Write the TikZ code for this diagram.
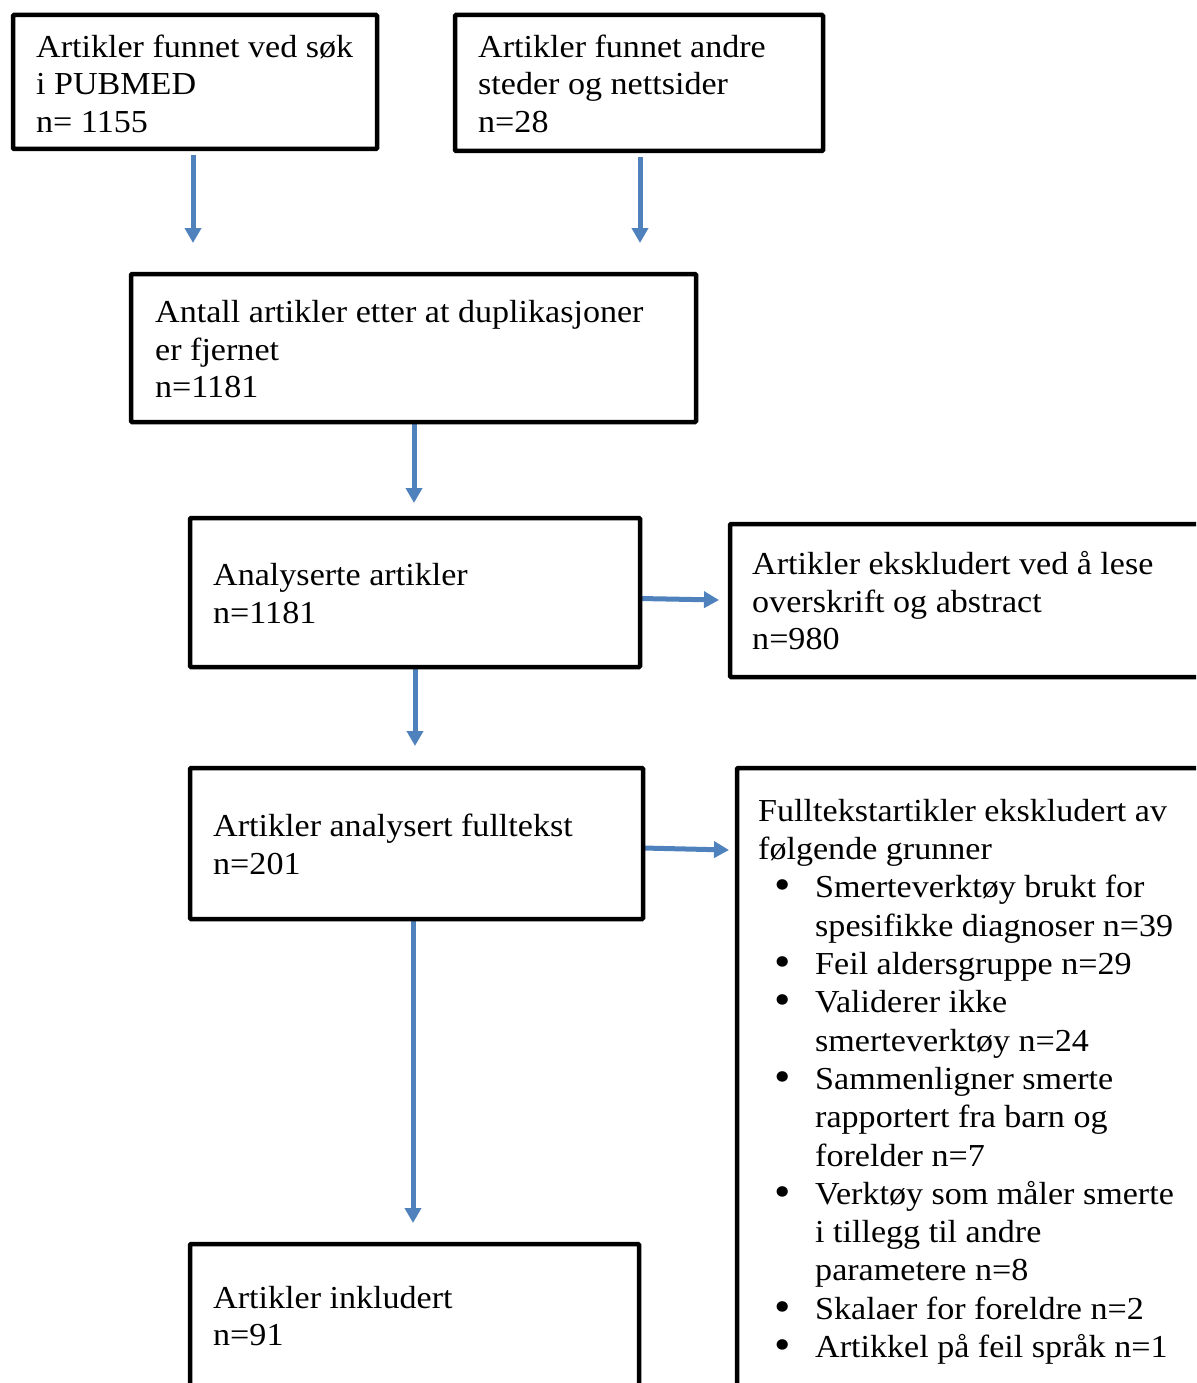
\documentclass[tikz,border=0pt]{standalone}
\usepackage{fontspec}
\setmainfont[FakeStretch=1.065]{Liberation Serif}
\usetikzlibrary{arrows.meta,backgrounds}
\definecolor{arrowblue}{RGB}{79,129,189}
\newcommand\bitem{\makebox[57pt][l]{\hspace{16pt}\raisebox{-2pt}{\fontsize{44}{0}\selectfont\textbullet}}}
\newcommand\bcont{\hspace*{57pt}}
\begin{document}
\begin{tikzpicture}[x=1pt,y=-1pt,
  box/.style={draw=black,fill=white,line width=4.5pt,anchor=north west,inner sep=0pt,outer sep=0pt,rounded corners=1pt},
  txt/.style={anchor=base west,align=left,inner sep=0pt,font=\fontsize{32}{37.5}\selectfont},
  arr/.style={draw=arrowblue,line width=5pt,-{Triangle[width=16pt,length=15pt]}}]
\clip (0,0) rectangle (1196,1383);
\useasboundingbox (0,0) rectangle (1196,1383);
% boxes
\node[box,minimum width=364pt,minimum height=134pt] (b1) at (13,15) {};
\node[box,minimum width=368pt,minimum height=136pt] (b2) at (455,15) {};
\node[box,minimum width=565pt,minimum height=148pt] (b3) at (131,274) {};
\node[box,minimum width=450pt,minimum height=149pt] (b4) at (190,518) {};
\node[box,minimum width=485pt,minimum height=153pt] (b5) at (730,524) {};
\node[box,minimum width=453pt,minimum height=151pt] (b6) at (190,768) {};
\node[box,minimum width=478pt,minimum height=640pt] (b7) at (737,768) {};
\node[box,minimum width=449pt,minimum height=160pt] (b8) at (190,1244) {};
% texts (anchored at the baseline of their last line)
\node[txt] (t1) at (36,132.5) {Artikler funnet ved søk\\i PUBMED\\n= 1155};
\node[txt] (t2) at (478,132.5) {Artikler funnet andre\\steder og nettsider\\n=28};
\node[txt] (t3) at (155,397.5) {Antall artikler etter at duplikasjoner\\er fjernet\\n=1181};
\node[txt] (t4) at (213,623) {Analyserte artikler\\n=1181};
\node[txt] (t5) at (752,649.5) {Artikler ekskludert ved å lese\\overskrift og abstract\\n=980};
\node[txt] (t6) at (213,874) {Artikler analysert fulltekst\\n=201};
\node[txt,font=\fontsize{32}{38.3}\selectfont] (t7) at (758,1357.5) {Fulltekstartikler ekskludert av\\følgende grunner\\
\bitem Smerteverktøy brukt for\\\bcont spesifikke diagnoser n=39\\
\bitem Feil aldersgruppe n=29\\
\bitem Validerer ikke\\\bcont smerteverktøy n=24\\
\bitem Sammenligner smerte\\\bcont rapportert fra barn og\\\bcont forelder n=7\\
\bitem Verktøy som måler smerte\\\bcont i tillegg til andre\\\bcont parametere n=8\\
\bitem Skalaer for foreldre n=2\\
\bitem Artikkel på feil språk n=1};
\node[txt] (t8) at (213,1345.5) {Artikler inkludert\\n=91};
% arrow ends
\coordinate (e1) at (193,243);
\coordinate (e2) at (640,243);
\coordinate (e3) at (414,503);
\coordinate (e4) at (719,600);
\coordinate (e5) at (415,746);
\coordinate (e6) at (729,850);
\coordinate (e7) at (413,1223);
\begin{pgfonlayer}{background}
\draw[arr] (b1.south -| e1) ++(0,6) -- (e1);
\draw[arr] (b2.south -| e2) ++(0,6) -- (e2);
\draw[arr] (b3.south -| e3) -- (e3);
\draw[arr] ([yshift=-6pt]b4.east) -- (e4);
\draw[arr] (b4.south -| e5) -- (e5);
\draw[arr] ([yshift=-4.5pt]b6.east) -- (e6);
\draw[arr] (b6.south -| e7) -- (e7);
\end{pgfonlayer}
\end{tikzpicture}
\end{document}
